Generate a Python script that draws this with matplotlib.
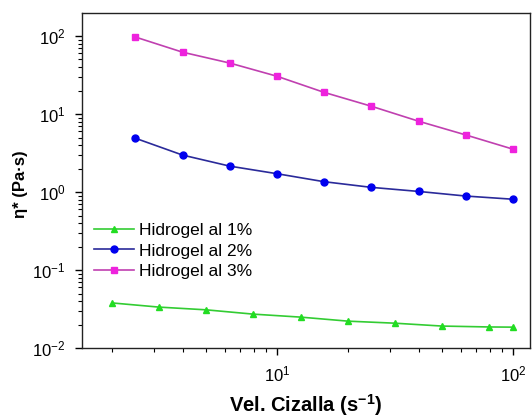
import matplotlib
matplotlib.use('Agg')
import matplotlib.pyplot as plt
from matplotlib.ticker import LogLocator, NullFormatter

plt.rcParams['font.family'] = ['Liberation Sans', 'DejaVu Sans']
plt.rcParams['mathtext.fontset'] = 'custom'
plt.rcParams['mathtext.rm'] = 'Liberation Sans'
plt.rcParams['mathtext.bf'] = 'Liberation Sans:bold'
plt.rcParams['axes.unicode_minus'] = False

# shear rates (s^-1)
shear_1 = [2.0, 3.16, 5.01, 7.94, 12.6, 20.0, 31.6, 50.1, 79.4, 100.0]
shear_23 = [2.51, 3.98, 6.31, 10.0, 15.8, 25.1, 39.8, 63.1, 100.0]

# complex viscosity (Pa·s)
eta_1 = [0.038, 0.0336, 0.031, 0.0273, 0.025, 0.0222, 0.0209, 0.0192, 0.0187, 0.0186]
eta_2 = [4.9, 2.98, 2.15, 1.72, 1.36, 1.15, 1.02, 0.89, 0.81]
eta_3 = [97.0, 62.0, 45.0, 30.5, 19.0, 12.6, 8.1, 5.4, 3.55]

labels = ['Hidrogel al 1%', 'Hidrogel al 2%', 'Hidrogel al 3%']

fig = plt.figure(figsize=(5.32, 4.2), dpi=100)
ax = fig.add_axes([0.154, 0.171, 0.842, 0.798])

ax.plot(shear_1, eta_1, color='#33cc33', lw=1.2, marker='^', ms=5,
        mfc='#22dd22', mec='#22dd22', label=labels[0])
ax.plot(shear_23, eta_2, color='#2a2a9a', lw=1.2, marker='o', ms=5,
        mfc='#0000ee', mec='#0000ee', label=labels[1])
ax.plot(shear_23, eta_3, color='#c040b0', lw=1.2, marker='s', ms=4.5,
        mfc='#ee22dd', mec='#ee22dd', label=labels[2])

ax.set_xscale('log')
ax.set_yscale('log')
ax.set_xlim(1.49, 118)
ax.set_ylim(0.01, 197)

ax.yaxis.set_major_locator(LogLocator(base=10, numticks=10))
ax.yaxis.set_minor_locator(LogLocator(base=10, subs=range(2, 10), numticks=10))
ax.yaxis.set_minor_formatter(NullFormatter())
ax.xaxis.set_minor_formatter(NullFormatter())

ax.tick_params(which='major', direction='out', length=5, width=1, labelsize=12)
ax.tick_params(axis='y', which='major', pad=7)
ax.tick_params(axis='x', which='major', pad=7)
ax.tick_params(which='minor', direction='out', length=3, width=0.8)
for s in ax.spines.values():
    s.set_linewidth(1.0)
    s.set_color('#222222')

ax.set_xlabel(r'Vel. Cizalla (s$^{\mathbf{-1}}$)', fontsize=14.5, fontweight='bold')
ax.set_ylabel('η* (Pa·s)', fontsize=12, fontweight='bold')
ax.xaxis.set_label_coords(0.5, -0.132)
ax.yaxis.set_label_coords(-0.12, 0.49)

ax.legend(loc='center left', bbox_to_anchor=(0.0, 0.29), frameon=False,
          fontsize=12.5, handlelength=2.3, handletextpad=0.3,
          labelspacing=0.3, borderaxespad=0.3)

fig.savefig('out.png', dpi=100)
plt.close(fig)
